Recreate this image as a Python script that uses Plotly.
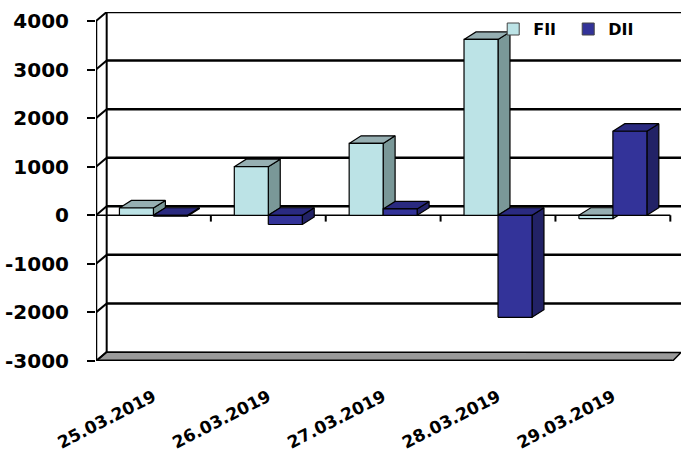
import plotly.graph_objects as go

# Net flows per session (Rs crore)
dates = ["25.03.2019", "26.03.2019", "27.03.2019", "28.03.2019", "29.03.2019"]
fii = [150, 1000, 1480, 3620, -70]
dii = [-20, -190, 130, -2100, 1730]
y_ticks = [-3000, -2000, -1000, 0, 1000, 2000, 3000, 4000]
y_tick_text = ["-3000", "-2000", "-1000", "0", "1000", "2000", "3000", "4000"]

# pseudo-3D geometry in axis units
BAR_W = 0.296
BAR_DX, BAR_DY = 0.104, 155
WALL_DX, WALL_DY = 0.093, 185
X_LO, X_HI = -0.5, 4.5 + WALL_DX
Y_LO, Y_HI = -3000, 4000 + WALL_DY

series = [
    ("FII", fii, -BAR_W, "#BCE3E6", "#96AFB2", "#7A9898"),
    ("DII", dii, 0.0, "#333399", "#2A2A80", "#222266"),
]

fig = go.Figure()

# legend entries
for name, _, _, front, _, _ in series:
    fig.add_trace(go.Bar(x=[None], y=[None], name=name,
                         marker=dict(color=front, line=dict(color="#444", width=1))))


def poly(pts, color):
    xs = [p[0] for p in pts] + [pts[0][0]]
    ys = [p[1] for p in pts] + [pts[0][1]]
    return go.Scatter(x=xs, y=ys, mode="lines", fill="toself", fillcolor=color,
                      line=dict(color="black", width=1.2), showlegend=False,
                      hoverinfo="skip")


for name, vals, off, c_front, c_top, c_side in series:
    for i, v in enumerate(vals):
        x0 = i + off
        x1 = x0 + BAR_W
        lo, hi = min(0, v), max(0, v)
        side = [(x1, lo), (x1 + BAR_DX, lo + BAR_DY), (x1 + BAR_DX, hi + BAR_DY), (x1, hi)]
        top = [(x0, hi), (x1, hi), (x1 + BAR_DX, hi + BAR_DY), (x0 + BAR_DX, hi + BAR_DY)]
        front = [(x0, lo), (x1, lo), (x1, hi), (x0, hi)]
        fig.add_trace(poly(side, c_side))
        fig.add_trace(poly(top, c_top))
        fig.add_trace(poly(front, c_front))

shapes = []
# floor
shapes.append(dict(type="path", layer="below",
                   path=f"M {X_LO},{Y_LO} L 4.52,{Y_LO} L {X_HI},{Y_LO + WALL_DY * 0.95} "
                        f"L {X_LO + WALL_DX},{Y_LO + WALL_DY} Z",
                   fillcolor="#9A9A9A", line=dict(color="black", width=1.5)))
shapes.append(dict(type="line", layer="below", x0=X_LO, x1=4.52, y0=Y_LO, y1=Y_LO,
                   line=dict(color="black", width=3)))
# back wall gridlines and side-wall connectors
for t in y_ticks:
    if t > Y_LO:
        shapes.append(dict(type="line", layer="below", x0=X_LO + WALL_DX, x1=X_HI,
                           y0=t + WALL_DY, y1=t + WALL_DY,
                           line=dict(color="black", width=2.5)))
    shapes.append(dict(type="line", layer="below", x0=X_LO, x1=X_LO + WALL_DX,
                       y0=t, y1=t + WALL_DY, line=dict(color="black", width=2)))
# back wall left edge and front axis
shapes.append(dict(type="line", layer="below", x0=X_LO + WALL_DX, x1=X_LO + WALL_DX,
                   y0=Y_LO + WALL_DY, y1=4000 + WALL_DY, line=dict(color="black", width=2)))
shapes.append(dict(type="line", layer="below", x0=X_LO, x1=X_LO,
                   y0=Y_LO, y1=4000, line=dict(color="black", width=2.5)))
# front category axis at zero
shapes.append(dict(type="line", layer="below", x0=X_LO, x1=4.5, y0=0, y1=0,
                   line=dict(color="black", width=1.5)))
for b in range(6):
    shapes.append(dict(type="line", layer="below", x0=b - 0.5, x1=b - 0.5, y0=0, y1=-130,
                       line=dict(color="black", width=2)))

font_family = "DejaVu Sans"
fig.update_layout(
    width=681, height=461,
    margin=dict(l=96, r=0, t=12, b=100),
    paper_bgcolor="white", plot_bgcolor="white",
    shapes=shapes,
    showlegend=True,
    legend=dict(orientation="h", x=0.679, y=0.951, xanchor="left", yanchor="middle",
                bgcolor="rgba(0,0,0,0)", entrywidth=30, itemwidth=30,
                font=dict(family=font_family, size=16, color="black", weight="bold")),
    xaxis=dict(range=[X_LO, X_HI], showgrid=False, zeroline=False, showline=False,
               tickmode="array", tickvals=list(range(len(dates))), ticktext=dates,
               tickangle=-27, ticks="", ticklabelstandoff=22,
               tickfont=dict(family=font_family, size=17, color="black", weight="bold")),
    yaxis=dict(range=[Y_LO, Y_HI], showgrid=False, zeroline=False, showline=False,
               tickmode="array", tickvals=y_ticks, ticktext=y_tick_text,
               ticks="outside", ticklen=8,
               tickwidth=2, tickcolor="black", ticklabelstandoff=14,
               tickfont=dict(family=font_family, size=20, color="black", weight="bold")),
)

fig.write_html("out.html")
